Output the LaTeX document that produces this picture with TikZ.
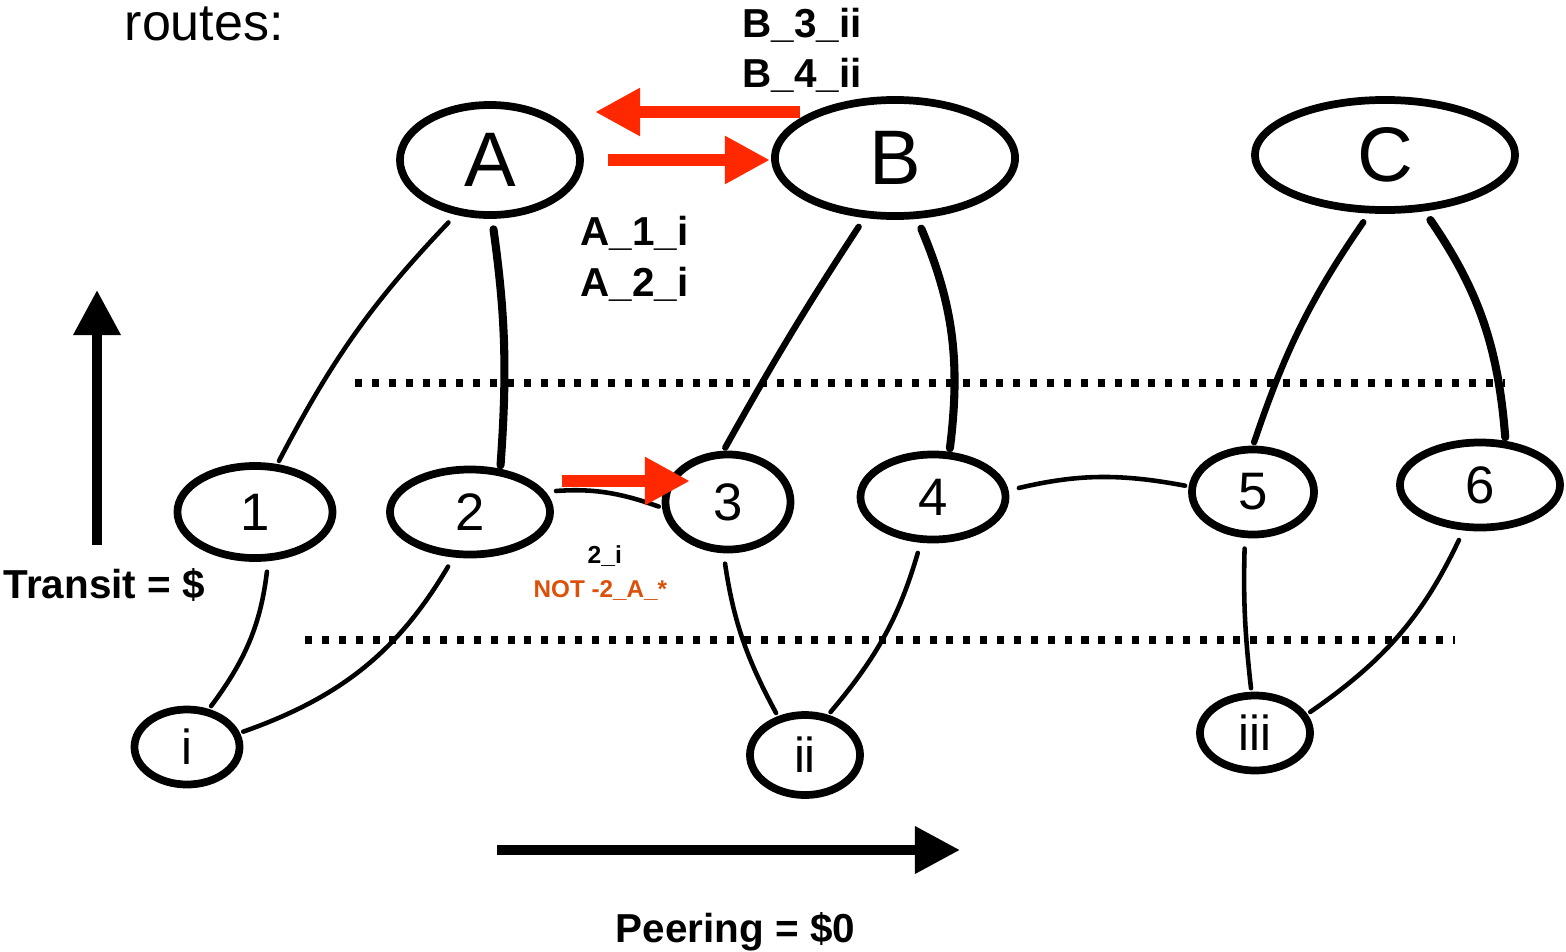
\documentclass[tikz,border=0pt]{standalone}
\usepackage{fontspec}
\setmainfont{Liberation Sans}
\usetikzlibrary{shapes.geometric, arrows.meta}

\begin{document}
\begin{tikzpicture}[x=0.01cm,y=-0.01cm,
  router/.style={ellipse,draw,line width=2.2pt,inner sep=0pt},
  big/.style={router,font=\fontsize{22}{22}\selectfont},
  small/.style={router,font=\fontsize{15}{15}\selectfont},
  link/.style={line width=1.3pt,line cap=round,shorten <=3pt,shorten >=1pt},
  trunk/.style={link,line width=2.3pt},
  tier/.style={line width=2pt,dash pattern=on 2pt off 2.8pt},
  announce/.style={line width=3.4pt,draw=route,-{Triangle[length=0.45cm,width=0.45cm]}},
  axis/.style={line width=2.8pt,-{Triangle[length=0.45cm,width=0.45cm]}},
  lbl/.style={font=\fontsize{11.5}{14}\selectfont\bfseries,anchor=base west,inner sep=0pt}]
  \useasboundingbox (0,0) rectangle (1566,951);

  \definecolor{route}{RGB}{255,40,0}
  \definecolor{filter}{RGB}{220,80,10}

  % tier lines
  \draw[tier] (355,383) -- (1505,383);
  \draw[tier] (305,640) -- (1455,640);

  % transit providers
  \node[big,minimum width=1.80cm,minimum height=1.10cm] (A) at (490,160) {A};
  \node[big,minimum width=2.40cm,minimum height=1.16cm] (B) at (895,158) {B};
  \node[big,minimum width=2.60cm,minimum height=1.10cm] (C) at (1385,155) {C};

  % middle tier
  \foreach \name/\x/\y/\w/\h in {1/255/512/1.55/0.92, 2/470/512/1.60/0.85,
      3/728/502/1.25/0.95, 4/933/497/1.45/0.85,
      5/1253/492/1.22/0.85, 6/1480/485/1.60/0.85}
    \node[small,minimum width=\w cm,minimum height=\h cm] (\name) at (\x,\y) {\name};

  % customers
  \foreach \name/\x/\y/\w/\h in {i/187/747/1.05/0.75, ii/805/755/1.10/0.80,
      iii/1255/733/1.10/0.75}
    \node[small,font=\fontsize{14}{14}\selectfont,minimum width=\w cm,minimum height=\h cm] (\name) at (\x,\y) {\name};

  % links
  \draw[link] (A.238) to[bend right=8] (1.65);
  \draw[trunk] (A.272) to[bend left=6] (2.55);
  \draw[link,line width=1.8pt] (B.243) to[bend right=2] (3.95);
  \draw[trunk] (B.290) to[bend left=15] (4.70);
  \draw[link,line width=1.8pt] (C.255) to[bend right=8] (5.90);
  \draw[trunk] (C.305) to[bend left=15] (6.60);
  \draw[link] (2.15) to[bend left=12] (3.185);
  \draw[link] (4.5) to[bend left=12] (5.175);
  \draw[link] (1.285) to[bend left=15] (i.60);
  \draw[link] (2.250) to[bend left=20] (i.15);
  \draw[link] (3.265) to[bend right=10] (ii.125);
  \draw[link] (4.255) to[bend left=12] (ii.60);
  \draw[link] (5.260) to[bend right=4] (iii.95);
  \draw[link] (6.250) to[bend left=15] (iii.20);

  % announcements
  \coordinate (bTail) at (800,112);
  \coordinate (aHead) at (595,112);
  \coordinate (aTail) at (608,160);
  \coordinate (bHead) at (770,160);
  \coordinate (twoTail) at (562,481);
  \coordinate (threeHead) at (690,481);
  \draw[announce] (bTail) -- (aHead);
  \draw[announce] (aTail) -- (bHead);
  \draw[announce] (twoTail) -- (threeHead);

  % axes
  \coordinate (upFoot) at (97,545);
  \coordinate (upTip) at (97,290);
  \coordinate (rightFoot) at (497,850);
  \coordinate (rightTip) at (960,850);
  \draw[axis] (upFoot) -- (upTip);
  \draw[axis] (rightFoot) -- (rightTip);

  % labels
  \node[lbl,font=\fontsize{14.8}{16}\selectfont] (routes) at (124,40) {routes:};
  \node[lbl] (bThree) at (742,37) {B\_3\_ii};
  \node[lbl] (bFour) at (742,87) {B\_4\_ii};
  \node[lbl] (aOne) at (580,245) {A\_1\_i};
  \node[lbl] (aTwo) at (580,296) {A\_2\_i};
  \node[lbl] (transit) at (3,598) {Transit = \$};
  \node[lbl] (peering) at (615,942) {Peering = \$0};
  \node[lbl,font=\fontsize{7}{8}\selectfont\bfseries] (twoI) at (587,563) {2\_i};
  \node[lbl,font=\fontsize{6.9}{8}\selectfont\bfseries,text=filter] (notA) at (533,597) {NOT -2\_A\_*};
\end{tikzpicture}
\end{document}
